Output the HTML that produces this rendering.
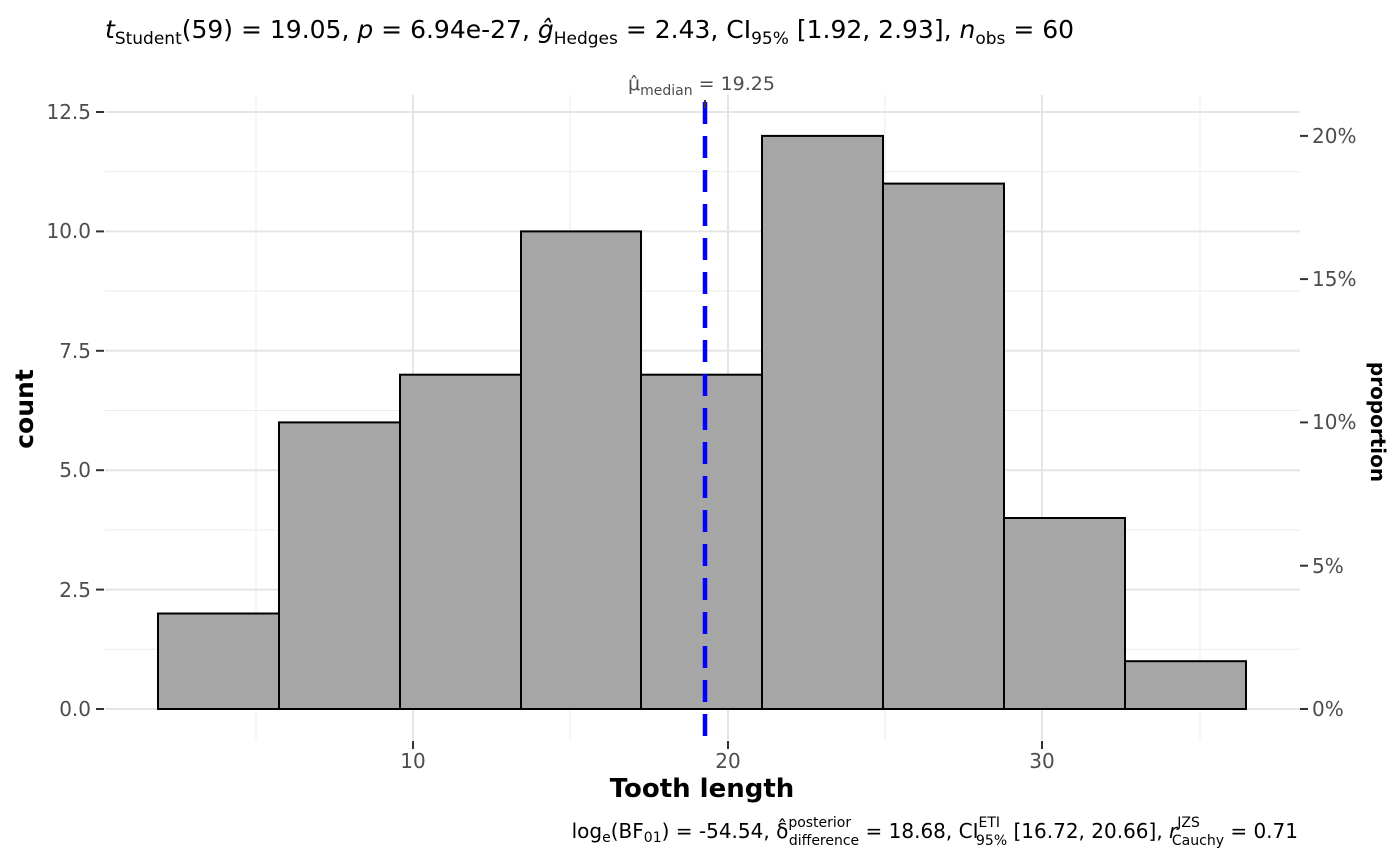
<!DOCTYPE html>
<html><head><meta charset="utf-8"><style>
html,body{margin:0;padding:0;background:#fff;}
svg{display:block;font-family:"DejaVu Sans","Liberation Sans",sans-serif;}
</style></head><body>
<svg width="1400" height="866" viewBox="0 0 1400 866" xmlns="http://www.w3.org/2000/svg">
<rect width="1400" height="866" fill="#fff"/>
<g stroke="#ebebeb" stroke-width="1">
<line x1="105" x2="1300" y1="649.3" y2="649.3"/>
<line x1="105" x2="1300" y1="530" y2="530"/>
<line x1="105" x2="1300" y1="410.5" y2="410.5"/>
<line x1="105" x2="1300" y1="291" y2="291"/>
<line x1="105" x2="1300" y1="171.7" y2="171.7"/>
<line y1="95" y2="740" x1="256" x2="256"/>
<line y1="95" y2="740" x1="570" x2="570"/>
<line y1="95" y2="740" x1="885" x2="885"/>
<line y1="95" y2="740" x1="1200" x2="1200"/>
</g>
<g stroke="#e5e5e5" stroke-width="2">
<line x1="105" x2="1300" y1="709" y2="709"/>
<line x1="105" x2="1300" y1="589.6" y2="589.6"/>
<line x1="105" x2="1300" y1="470.2" y2="470.2"/>
<line x1="105" x2="1300" y1="350.8" y2="350.8"/>
<line x1="105" x2="1300" y1="231.4" y2="231.4"/>
<line x1="105" x2="1300" y1="112" y2="112"/>
<line y1="95" y2="740" x1="413" x2="413"/>
<line y1="95" y2="740" x1="728" x2="728"/>
<line y1="95" y2="740" x1="1042" x2="1042"/>
</g>
<g fill="#a6a6a6" stroke="#000" stroke-width="2">
<rect x="158" y="613.5" width="121" height="95.5"/>
<rect x="279" y="422.4" width="121" height="286.6"/>
<rect x="400" y="374.7" width="121" height="334.3"/>
<rect x="521" y="231.4" width="120" height="477.6"/>
<rect x="641" y="374.7" width="121" height="334.3"/>
<rect x="762" y="135.9" width="121" height="573.1"/>
<rect x="883" y="183.6" width="121" height="525.4"/>
<rect x="1004" y="518" width="121" height="191"/>
<rect x="1125" y="661.2" width="121" height="47.8"/>
</g>
<line x1="705" x2="705" y1="102" y2="740" stroke="#0000ff" stroke-width="4.5" stroke-dasharray="22 12"/>
<line x1="705" x2="705" y1="100" y2="108" stroke="#333" stroke-width="2"/>
<g stroke="#333" stroke-width="2">
<line x1="96" x2="104" y1="709" y2="709"/><line x1="96" x2="104" y1="589.6" y2="589.6"/>
<line x1="96" x2="104" y1="470.2" y2="470.2"/><line x1="96" x2="104" y1="350.8" y2="350.8"/>
<line x1="96" x2="104" y1="231.4" y2="231.4"/><line x1="96" x2="104" y1="112" y2="112"/>
<line x1="1300" x2="1308" y1="709" y2="709"/><line x1="1300" x2="1308" y1="565.7" y2="565.7"/>
<line x1="1300" x2="1308" y1="422.4" y2="422.4"/><line x1="1300" x2="1308" y1="279.1" y2="279.1"/>
<line x1="1300" x2="1308" y1="135.9" y2="135.9"/>
<line x1="413" x2="413" y1="741" y2="749"/><line x1="728" x2="728" y1="741" y2="749"/><line x1="1042" x2="1042" y1="741" y2="749"/>
</g>
<g fill="#4d4d4d" font-size="20" text-anchor="end">
<text x="91" y="716">0.0</text><text x="91" y="597">2.5</text><text x="91" y="477">5.0</text>
<text x="91" y="358">7.5</text><text x="91" y="238">10.0</text><text x="91" y="119">12.5</text>
</g>
<g fill="#4d4d4d" font-size="20">
<text x="1312" y="716">0%</text><text x="1312" y="573">5%</text><text x="1312" y="429">10%</text>
<text x="1312" y="286">15%</text><text x="1312" y="143">20%</text>
</g>
<g fill="#4d4d4d" font-size="20" text-anchor="middle">
<text x="413" y="768">10</text><text x="728" y="768">20</text><text x="1042" y="768">30</text>
</g>
<text x="702" y="797" font-size="26" font-weight="bold" text-anchor="middle">Tooth length</text>
<text transform="translate(33,409) rotate(-90)" font-size="25" font-weight="bold" text-anchor="middle">count</text>
<text transform="translate(1371,422) rotate(90)" font-size="20" font-weight="bold" text-anchor="middle">proportion</text>
<text x="105" y="38" font-size="25"><tspan font-style="italic">t</tspan><tspan font-size="17" dy="6">Student</tspan><tspan dy="-6">(59) = 19.05, </tspan><tspan font-style="italic">p</tspan> = 6.94e-27, <tspan font-style="italic">ĝ</tspan><tspan font-size="17" dy="6">Hedges</tspan><tspan dy="-6"> = 2.43, CI</tspan><tspan font-size="17" dy="6">95%</tspan><tspan dy="-6"> [1.92, 2.93], </tspan><tspan font-style="italic">n</tspan><tspan font-size="17" dy="6">obs</tspan><tspan dy="-6"> = 60</tspan></text>
<text x="628" y="90" font-size="19" fill="#4d4d4d">μ̂<tspan font-size="14" dy="5">median</tspan><tspan dy="-5"> = 19.25</tspan></text>
<text x="1298" y="838" font-size="20" text-anchor="end">log<tspan font-size="14" dy="4">e</tspan><tspan dy="-4">(BF</tspan><tspan font-size="14" dy="4">01</tspan><tspan dy="-4">) = -54.54, δ̂</tspan><tspan font-size="14" dy="-11">posterior</tspan><tspan font-size="14" dx="-62" dy="18">difference</tspan><tspan dy="-7"> = 18.68, CI</tspan><tspan font-size="14" dy="-11">ETI</tspan><tspan font-size="14" dx="-24" dy="18">95%</tspan><tspan dy="-7"> [16.72, 20.66], </tspan><tspan font-style="italic">r</tspan><tspan font-size="14" dy="-11">JZS</tspan><tspan font-size="14" dx="-28" dy="18">Cauchy</tspan><tspan dy="-7"> = 0.71</tspan></text>
</svg>
</body></html>
